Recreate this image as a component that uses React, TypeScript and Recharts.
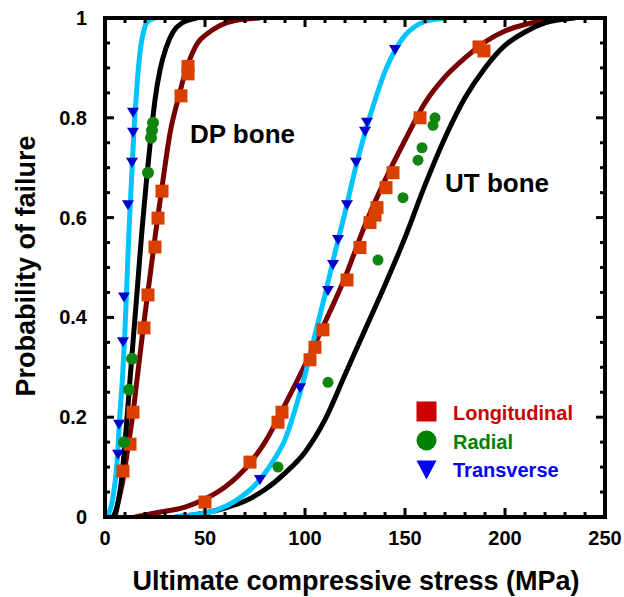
import React from 'react';
import { ComposedChart, Line, Scatter, XAxis, YAxis } from 'recharts';

type Pt = { x: number; y: number };

/* ------------------------------------------------------------------ */
/*  Fitted Weibull curves                       */
/* ------------------------------------------------------------------ */
const dpTransCurve: Pt[] = [
  { x: 0.5, y: 0 }, { x: 1.5, y: 0.004 }, { x: 4, y: 0.04 }, { x: 6, y: 0.108 },
  { x: 7.5, y: 0.208 }, { x: 8.75, y: 0.28 }, { x: 10, y: 0.375 }, { x: 11, y: 0.475 },
  { x: 12, y: 0.575 }, { x: 13.25, y: 0.675 }, { x: 14.5, y: 0.776 }, { x: 15.5, y: 0.836 },
  { x: 16.75, y: 0.902 }, { x: 18, y: 0.946 }, { x: 19.5, y: 0.976 }, { x: 21, y: 0.992 },
  { x: 25, y: 1 },
];
const dpRadCurve: Pt[] = [
  { x: 4, y: 0 }, { x: 6, y: 0.02 }, { x: 8.25, y: 0.074 }, { x: 10.5, y: 0.174 },
  { x: 12.5, y: 0.275 }, { x: 14.5, y: 0.375 }, { x: 16.5, y: 0.475 }, { x: 18.5, y: 0.575 },
  { x: 20.75, y: 0.675 }, { x: 23.25, y: 0.775 }, { x: 25, y: 0.836 }, { x: 27.5, y: 0.896 },
  { x: 30.5, y: 0.94 }, { x: 34, y: 0.972 }, { x: 38.5, y: 0.99 }, { x: 46, y: 1 },
];
const dpLongCurve: Pt[] = [
  { x: 5, y: 0 }, { x: 6.5, y: 0.028 }, { x: 9, y: 0.074 }, { x: 11.5, y: 0.14 },
  { x: 14, y: 0.208 }, { x: 16, y: 0.275 }, { x: 19, y: 0.375 }, { x: 22.25, y: 0.475 },
  { x: 25.5, y: 0.575 }, { x: 29, y: 0.675 }, { x: 32.5, y: 0.769 }, { x: 37, y: 0.844 },
  { x: 39.75, y: 0.886 }, { x: 42.5, y: 0.918 }, { x: 46, y: 0.948 }, { x: 51, y: 0.968 },
  { x: 57.5, y: 0.985 }, { x: 65, y: 0.995 }, { x: 77.5, y: 1 },
];
const utTransCurve: Pt[] = [
  { x: 35, y: 0 }, { x: 45, y: 0.005 }, { x: 55, y: 0.013 }, { x: 65, y: 0.032 },
  { x: 75, y: 0.064 }, { x: 85, y: 0.118 }, { x: 90, y: 0.155 }, { x: 95, y: 0.215 },
  { x: 100, y: 0.285 }, { x: 105, y: 0.365 }, { x: 110, y: 0.445 }, { x: 115, y: 0.53 },
  { x: 120, y: 0.61 }, { x: 125, y: 0.695 }, { x: 130, y: 0.77 }, { x: 135, y: 0.835 },
  { x: 140, y: 0.893 }, { x: 145, y: 0.935 }, { x: 150, y: 0.965 }, { x: 155, y: 0.983 },
  { x: 160, y: 0.993 }, { x: 170, y: 1 },
];
const utLongCurve: Pt[] = [
  { x: 15, y: 0 }, { x: 25, y: 0.008 }, { x: 40, y: 0.02 }, { x: 50, y: 0.036 },
  { x: 60, y: 0.06 }, { x: 72.5, y: 0.108 }, { x: 80, y: 0.15 }, { x: 90, y: 0.225 },
  { x: 100, y: 0.305 }, { x: 110, y: 0.39 }, { x: 120, y: 0.48 }, { x: 130, y: 0.585 },
  { x: 140, y: 0.675 }, { x: 150, y: 0.755 }, { x: 160, y: 0.83 }, { x: 170, y: 0.882 },
  { x: 180, y: 0.92 }, { x: 190, y: 0.952 }, { x: 200, y: 0.974 }, { x: 210, y: 0.987 },
  { x: 220, y: 0.995 }, { x: 230, y: 1 },
];
const utRadCurve: Pt[] = [
  { x: 35, y: 0 }, { x: 50, y: 0.008 }, { x: 60, y: 0.018 }, { x: 70, y: 0.032 },
  { x: 80, y: 0.055 }, { x: 90, y: 0.088 }, { x: 100, y: 0.13 }, { x: 110, y: 0.195 },
  { x: 120, y: 0.285 }, { x: 130, y: 0.375 }, { x: 140, y: 0.465 }, { x: 150, y: 0.56 },
  { x: 160, y: 0.665 }, { x: 170, y: 0.76 }, { x: 180, y: 0.84 }, { x: 190, y: 0.9 },
  { x: 200, y: 0.945 }, { x: 210, y: 0.972 }, { x: 220, y: 0.99 }, { x: 235, y: 1 },
];

/* ------------------------------------------------------------------ */
/*  Measured specimens                                                */
/* ------------------------------------------------------------------ */
const longPts: Pt[] = [
  // DP
  { x: 41.5, y: 0.903 }, { x: 41.5, y: 0.888 }, { x: 38, y: 0.844 }, { x: 28.5, y: 0.653 },
  { x: 26.5, y: 0.599 }, { x: 25, y: 0.541 }, { x: 21.5, y: 0.445 }, { x: 19.5, y: 0.379 },
  { x: 14, y: 0.21 }, { x: 12.5, y: 0.146 }, { x: 9, y: 0.092 },
  // UT
  { x: 187, y: 0.942 }, { x: 189.5, y: 0.934 }, { x: 157.5, y: 0.8 }, { x: 144, y: 0.69 },
  { x: 140.5, y: 0.66 }, { x: 136, y: 0.62 }, { x: 135, y: 0.605 }, { x: 132.5, y: 0.59 },
  { x: 127.5, y: 0.54 }, { x: 121, y: 0.475 }, { x: 109, y: 0.375 }, { x: 105, y: 0.34 },
  { x: 102.5, y: 0.315 }, { x: 88.5, y: 0.21 }, { x: 86.5, y: 0.19 }, { x: 72.5, y: 0.11 },
  { x: 50, y: 0.03 },
];
const dpRadPts: Pt[] = [
  { x: 24, y: 0.79 }, { x: 23.5, y: 0.775 }, { x: 23, y: 0.76 }, { x: 21.5, y: 0.69 },
  { x: 13.5, y: 0.317 }, { x: 12, y: 0.255 }, { x: 9.5, y: 0.15 },
];
const utRadPts: Pt[] = [
  { x: 165, y: 0.8 }, { x: 164, y: 0.785 }, { x: 158.5, y: 0.74 }, { x: 156.5, y: 0.715 },
  { x: 149, y: 0.64 }, { x: 136.5, y: 0.515 }, { x: 111.5, y: 0.27 }, { x: 86.5, y: 0.1 },
];
const transPts: Pt[] = [
  // DP
  { x: 14, y: 0.81 }, { x: 14, y: 0.77 }, { x: 13.5, y: 0.71 }, { x: 11.5, y: 0.625 },
  { x: 9.5, y: 0.44 }, { x: 9, y: 0.35 }, { x: 7, y: 0.185 }, { x: 6.5, y: 0.125 },
  // UT
  { x: 145, y: 0.936 }, { x: 131, y: 0.79 }, { x: 130, y: 0.772 }, { x: 125.5, y: 0.71 },
  { x: 121, y: 0.625 }, { x: 116.5, y: 0.555 }, { x: 114, y: 0.505 }, { x: 111.5, y: 0.453 },
  { x: 97.5, y: 0.258 }, { x: 77.5, y: 0.074 },
];

const X_MAJOR = [0, 50, 100, 150, 200, 250];
const X_MINOR = [10, 20, 30, 40, 60, 70, 80, 90, 110, 120, 130, 140, 160, 170, 180, 190, 210, 220, 230, 240];
const Y_MAJOR = [0, 0.2, 0.4, 0.6, 0.8, 1];
const Y_MINOR = [0.05, 0.1, 0.15, 0.25, 0.3, 0.35, 0.45, 0.5, 0.55, 0.65, 0.7, 0.75, 0.85, 0.9, 0.95];
const X_TICKS = [...X_MAJOR, ...X_MINOR].sort((a, b) => a - b);
const Y_TICKS = [...Y_MAJOR, ...Y_MINOR].sort((a, b) => a - b);

const LEGEND = [
  { label: 'Longitudinal', color: '#cc0000', shape: 'square' },
  { label: 'Radial', color: '#008000', shape: 'circle' },
  { label: 'Transverse', color: '#0000ff', shape: 'triangle' },
];

/* ------------------------------------------------------------------ */
const FONT = '"Liberation Sans", Arial, Helvetica, sans-serif';
const AXIS_LINE = { stroke: '#000', strokeWidth: 4, strokeLinecap: 'square' as const };
const MAJOR_LEN = 9;
const MINOR_LEN = 5;

const LIGHT_BLUE = '#00c4ff';
const DARK_RED = '#780000';

/* inward ticks: with tickSize=0 and tickMargin=0 the tick (x, y) sits on the axis line */
const makeTick = (side: 'bottom' | 'top' | 'left' | 'right', majors: number[], label: boolean) => (p: any) => {
  const v = p.payload.value;
  const major = majors.includes(v);
  const len = major ? MAJOR_LEN : MINOR_LEN;
  const { x, y } = p;
  let line;
  if (side === 'bottom') line = { x1: x, y1: y, x2: x, y2: y - len };
  else if (side === 'top') line = { x1: x, y1: y, x2: x, y2: y + len };
  else if (side === 'left') line = { x1: x, y1: y, x2: x + len, y2: y };
  else line = { x1: x, y1: y, x2: x - len, y2: y };
  return (
    <g>
      <line {...line} stroke="#000" strokeWidth={3} />
      {label && major && side === 'bottom' && (
        <text x={x} y={y + 28} textAnchor="middle" fontSize={20} fontWeight={700} fontFamily={FONT} fill="#000">
          {v}
        </text>
      )}
      {label && major && side === 'left' && (
        <text x={x - 18} y={y + 7} textAnchor="end" fontSize={20} fontWeight={700} fontFamily={FONT} fill="#000">
          {v}
        </text>
      )}
    </g>
  );
};

const squareShape = (p: any) => (
  <rect x={p.cx - 6.5} y={p.cy - 6.5} width={13} height={13} fill="#d94000" />
);
const circleShape = (r: number) => (p: any) => <circle cx={p.cx} cy={p.cy} r={r} fill="#118511" />;
const triShape = (p: any) => (
  <polygon
    points={`${p.cx - 6},${p.cy - 5} ${p.cx + 6},${p.cy - 5} ${p.cx},${p.cy + 5}`}
    fill="#0000cc"
  />
);

const LegendMark = ({ shape, color, cx, cy }: { shape: string; color: string; cx: number; cy: number }) => {
  if (shape === 'square') return <rect x={cx - 10} y={cy - 10} width={20} height={20} fill={color} />;
  if (shape === 'circle') return <circle cx={cx} cy={cy} r={10} fill={color} />;
  return <polygon points={`${cx - 10},${cy - 9} ${cx + 10},${cy - 9} ${cx},${cy + 10}`} fill={color} />;
};

export default function App() {
  const curve = (data: Pt[], color: string, key: string) => (
    <Line
      key={key}
      data={data}
      dataKey="y"
      type="monotone"
      stroke={color}
      strokeWidth={5}
      strokeLinejoin="round"
      dot={false}
      activeDot={false}
      legendType="none"
      isAnimationActive={false}
    />
  );

  return (
    <div style={{ position: 'absolute', left: 0, top: 0, width: 624, height: 597, background: '#fff' }}>
      <ComposedChart width={624} height={597} margin={{ top: 17, right: 18, bottom: 79, left: 104 }}>
        <XAxis xAxisId={0} type="number" dataKey="x" domain={[0, 250]} ticks={X_TICKS} interval={0}
          height={1} tickSize={0} tickMargin={0} axisLine={AXIS_LINE} tickLine={false}
          tick={makeTick('bottom', X_MAJOR, true)} allowDataOverflow />
        <XAxis xAxisId="xt" orientation="top" type="number" dataKey="x" domain={[0, 250]} ticks={X_TICKS}
          interval={0} height={1} tickSize={0} tickMargin={0} axisLine={AXIS_LINE} tickLine={false}
          tick={makeTick('top', X_MAJOR, false)} allowDataOverflow />
        <YAxis yAxisId={0} type="number" dataKey="y" domain={[0, 1]} ticks={Y_TICKS} interval={0}
          width={1} tickSize={0} tickMargin={0} axisLine={AXIS_LINE} tickLine={false}
          tick={makeTick('left', Y_MAJOR, true)} allowDataOverflow />
        <YAxis yAxisId="yr" orientation="right" type="number" dataKey="y" domain={[0, 1]} ticks={Y_TICKS}
          interval={0} width={1} tickSize={0} tickMargin={0} axisLine={AXIS_LINE} tickLine={false}
          tick={makeTick('right', Y_MAJOR, false)} allowDataOverflow />

        {curve(utLongCurve, DARK_RED, 'utl')}
        {curve(utRadCurve, '#000', 'utr')}
        {curve(utTransCurve, LIGHT_BLUE, 'utt')}
        {curve(dpLongCurve, DARK_RED, 'dpl')}
        {curve(dpRadCurve, '#000', 'dpr')}
        {curve(dpTransCurve, LIGHT_BLUE, 'dpt')}

        <Scatter data={longPts} shape={squareShape} legendType="none" isAnimationActive={false} />
        <Scatter data={dpRadPts} shape={circleShape(6)} legendType="none" isAnimationActive={false} />
        <Scatter data={utRadPts} shape={circleShape(5.5)} legendType="none" isAnimationActive={false} />
        <Scatter data={transPts} shape={triShape} legendType="none" isAnimationActive={false} />
      </ComposedChart>

      <svg
        width={624}
        height={597}
        style={{ position: 'absolute', left: 0, top: 0, pointerEvents: 'none' }}
        fontFamily={FONT}
        fontWeight={700}
      >
        <text x={356} y={590} textAnchor="middle" fontSize={27} fill="#000">
          Ultimate compressive stress (MPa)
        </text>
        <text transform="translate(35,266) rotate(-90)" textAnchor="middle" fontSize={27} fill="#000">
          Probability of failure
        </text>
        <text x={190} y={143} fontSize={26} fill="#000">DP bone</text>
        <text x={445} y={192} fontSize={26} fill="#000">UT bone</text>
        {LEGEND.map((item, i) => (
          <g key={item.label}>
            <LegendMark shape={item.shape} color={item.color} cx={426.5} cy={411.5 + i * 29} />
            <text x={453} y={420 + i * 28.5} fontSize={20} fill={item.color}>
              {item.label}
            </text>
          </g>
        ))}
      </svg>
    </div>
  );
}
